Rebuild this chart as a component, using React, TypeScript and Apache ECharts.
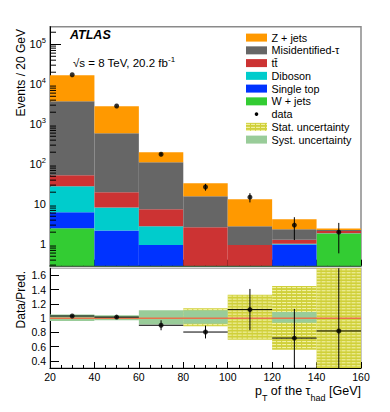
import React, { useEffect, useRef } from 'react';
import * as echarts from 'echarts';

const FONT = '"Liberation Sans", Arial, Helvetica, sans-serif';

// ---- data ----
const binEdges = [20, 40, 60, 80, 100, 120, 140, 160];
const componentNames = ['W + jets', 'Single top', 'Diboson', 'tt\u0304', 'Misidentified-\u03c4', 'Z + jets'];
const componentColors = ['#33cc33', '#0033ff', '#00cccc', '#cc3333', '#666666', '#ff9900'];
const wJets = [2.5, 0.1, 0.05, 0.05, 0.02, 0.02, 1.85];
const singleTop = [3.8, 2.1, 0.9, 0.1, 0.05, 0.96, 0.01];
const diboson = [21.7, 6.1, 1.85, 0.1, 0.05, 0.05, 0.02];
const ttbar = [25, 11.6, 4.7, 2.41, 0.83, 0.27, 0.27];
const misidTau = [3707, 576, 104.5, 13.1, 1.85, 1.07, 0.1];
const zJets = [13040, 2224, 88, 17.7, 10.5, 1.83, 0.23];
const dataCounts = [17300, 2860, 178, 27, 15, 3, 2];
const dataErr = [132, 53, 13.3, 5.2, 3.9, 1.73, 1.41];
const ratioValues = [1.03, 1.015, 0.9, 0.805, 1.12, 0.72, 0.82];
const ratioErr = [0.01, 0.02, 0.07, 0.09, 0.29, 0.41, 1.0];
const statLow = [0.99, 0.985, 0.97, 0.885, 0.695, 0.555, 0.25];
const statHigh = [1.01, 1.015, 1.03, 1.14, 1.33, 1.45, 1.75];
const systLow = [0.96, 0.97, 0.91, 0.92, 1, 0.935, 1];
const systHigh = [1.05, 1.04, 1.11, 1.11, 1, 1.086, 1];
const ratioReference = 1;
const ratioTicks = [0.4, 0.6, 0.8, 1, 1.2, 1.4, 1.6];
const logDecades = [0.1, 1, 10, 100, 1000, 10000, 100000];
const logMinorMultipliers = [2, 3, 4, 5, 6, 7, 8, 9];

const components = [wJets, singleTop, diboson, ttbar, misidTau, zJets];
const binCenters = binEdges.slice(0, -1).map((e, i) => (e + binEdges[i + 1]) / 2);
const logMinorTicks: number[] = [];
logDecades.forEach((d) => logMinorMultipliers.forEach((m) => logMinorTicks.push(d * m)));

const STAT_FILL = '#d0d03a';
const STAT_LINE = 'rgba(255,255,205,0.8)';
const SYST_FILL = '#99cc99';

function clipShape(shape: any, cs: any) {
  return echarts.graphic.clipRectByRect(shape, { x: cs.x, y: cs.y, width: cs.width, height: cs.height });
}

function rectFromApi(params: any, api: any) {
  const p0 = api.coord([api.value(0), api.value(3)]);
  const p1 = api.coord([api.value(1), api.value(2)]);
  return clipShape({ x: p0[0], y: p0[1], width: p1[0] - p0[0], height: p1[1] - p0[1] }, params.coordSys);
}

const histRender = (params: any, api: any) => {
  const shape = rectFromApi(params, api);
  if (!shape) return null;
  return { type: 'rect', shape, style: { fill: api.visual('color') } };
};

function hatchChildren(shape: any) {
  const children: any[] = [{ type: 'rect', shape, style: { fill: STAT_FILL } }];
  for (let y = shape.y + 1.5; y < shape.y + shape.height; y += 3) {
    children.push({
      type: 'line',
      shape: { x1: shape.x, y1: y, x2: shape.x + shape.width, y2: y },
      style: { stroke: STAT_LINE, lineWidth: 1, lineDash: [4, 1] },
    });
  }
  return children;
}

const statRender = (params: any, api: any) => {
  const shape = rectFromApi(params, api);
  if (!shape || shape.height <= 0) return null;
  return { type: 'group', children: hatchChildren(shape) };
};

const systRender = (params: any, api: any) => {
  const shape = rectFromApi(params, api);
  if (!shape || shape.height <= 0) return null;
  return { type: 'rect', shape, style: { fill: SYST_FILL } };
};

const vErrRender = (params: any, api: any) => {
  const a = api.coord([api.value(0), api.value(1)]);
  const b = api.coord([api.value(0), api.value(2)]);
  return { type: 'line', shape: { x1: a[0], y1: a[1], x2: b[0], y2: b[1] }, style: { stroke: '#000', lineWidth: 1 } };
};

const ratioErrRender = (params: any, api: any) => {
  const a = api.coord([api.value(0), api.value(2)]);
  const b = api.coord([api.value(0), api.value(3)]);
  const c = api.coord([api.value(4), api.value(1)]);
  const d = api.coord([api.value(5), api.value(1)]);
  return {
    type: 'group',
    children: [
      { type: 'line', shape: { x1: a[0], y1: a[1], x2: b[0], y2: b[1] }, style: { stroke: '#000', lineWidth: 1 } },
      { type: 'line', shape: { x1: c[0], y1: c[1], x2: d[0], y2: d[1] }, style: { stroke: '#000', lineWidth: 1 } },
    ],
  };
};

const minorTickRender = (params: any, api: any) => {
  const v = api.value(1);
  const cs = params.coordSys;
  const p = api.coord([binEdges[0], v]);
  if (p[1] <= cs.y + 0.5 || p[1] >= cs.y + cs.height - 0.5) return null;
  return { type: 'line', shape: { x1: cs.x, y1: p[1], x2: cs.x + 6, y2: p[1] }, style: { stroke: '#000', lineWidth: 1 } };
};

function buildOption() {
  const running = binCenters.map(() => 0);
  const histSeries = components.map((vals, c) => {
    const data = vals.map((v, i) => {
      const lo = running[i];
      const hi = lo + v;
      running[i] = hi;
      return [binEdges[i], binEdges[i + 1], Math.max(lo, 1e-3), hi];
    });
    return {
      type: 'custom',
      name: componentNames[c],
      xAxisIndex: 0,
      yAxisIndex: 0,
      renderItem: histRender,
      itemStyle: { color: componentColors[c] },
      encode: { x: [0, 1], y: [2, 3] },
      data,
      z: 2,
    };
  });

  const minorTickSeries = {
    type: 'custom',
    name: 'minor-ticks',
    xAxisIndex: 0,
    yAxisIndex: 0,
    renderItem: minorTickRender,
    encode: { x: 0, y: 1 },
    data: logMinorTicks.map((v) => [binEdges[0], v]),
    silent: true,
    z: 8,
  };

  const dataErrSeries = {
    type: 'custom',
    name: 'data-err',
    xAxisIndex: 0,
    yAxisIndex: 0,
    clip: true,
    renderItem: vErrRender,
    encode: { x: 0, y: [1, 2] },
    data: dataCounts.map((v, i) => [binCenters[i], v - dataErr[i], v + dataErr[i]]),
    z: 5,
  };
  const dataSeries = {
    type: 'scatter',
    name: 'data',
    xAxisIndex: 0,
    yAxisIndex: 0,
    symbol: 'circle',
    symbolSize: 5,
    itemStyle: { color: '#000' },
    data: dataCounts.map((v, i) => [binCenters[i], v]),
    z: 6,
  };

  const statSeries = {
    type: 'custom',
    name: 'Stat. uncertainty',
    xAxisIndex: 1,
    yAxisIndex: 1,
    renderItem: statRender,
    encode: { x: [0, 1], y: [2, 3] },
    data: statLow.map((lo, i) => [binEdges[i], binEdges[i + 1], lo, statHigh[i]]),
    z: 2,
  };
  const systSeries = {
    type: 'custom',
    name: 'Syst. uncertainty',
    xAxisIndex: 1,
    yAxisIndex: 1,
    renderItem: systRender,
    encode: { x: [0, 1], y: [2, 3] },
    data: systLow.map((lo, i) => [binEdges[i], binEdges[i + 1], lo, systHigh[i]]),
    z: 3,
  };
  const refLine = {
    type: 'line',
    name: 'reference',
    xAxisIndex: 1,
    yAxisIndex: 1,
    showSymbol: false,
    symbol: 'none',
    lineStyle: { color: '#e8724c', width: 1.5 },
    data: [[binEdges[0], ratioReference], [binEdges[binEdges.length - 1], ratioReference]],
    z: 4,
  };
  const ratioErrSeries = {
    type: 'custom',
    name: 'ratio-err',
    xAxisIndex: 1,
    yAxisIndex: 1,
    clip: true,
    renderItem: ratioErrRender,
    encode: { x: [0, 4, 5], y: [1, 2, 3] },
    data: ratioValues.map((v, i) => [binCenters[i], v, v - ratioErr[i], v + ratioErr[i], binEdges[i], binEdges[i + 1]]),
    z: 5,
  };
  const ratioSeries = {
    type: 'scatter',
    name: 'ratio',
    xAxisIndex: 1,
    yAxisIndex: 1,
    symbol: 'circle',
    symbolSize: 5,
    itemStyle: { color: '#000' },
    data: ratioValues.map((v, i) => [binCenters[i], v]),
    z: 6,
  };

  // legend (graphic)
  const legendX = 246;
  const legendY0 = 37.6;
  const legendStep = 12.75;
  const legendItems: any[] = [];
  const entries: { name: string; kind: string; color?: string }[] = [];
  for (let c = componentNames.length - 1; c >= 0; c--) {
    entries.push({ name: componentNames[c], kind: 'rect', color: componentColors[c] });
  }
  entries.push({ name: 'data', kind: 'dot' });
  entries.push({ name: 'Stat. uncertainty', kind: 'stat' });
  entries.push({ name: 'Syst. uncertainty', kind: 'rect', color: SYST_FILL });
  entries.forEach((e, k) => {
    const cy = legendY0 + k * legendStep;
    const shape = { x: legendX, y: cy - 4, width: 21, height: 8 };
    if (e.kind === 'rect') {
      legendItems.push({ type: 'rect', shape, style: { fill: e.color } });
    } else if (e.kind === 'dot') {
      legendItems.push({ type: 'circle', shape: { cx: legendX + 10.5, cy, r: 1.8 }, style: { fill: '#000' } });
    } else {
      legendItems.push({ type: 'group', children: hatchChildren(shape) });
    }
    legendItems.push({
      type: 'text',
      x: 271.5,
      y: cy,
      style: { text: e.name, fontFamily: FONT, fontSize: 10.8, fill: '#000', align: 'left', verticalAlign: 'middle' },
    });
  });

  const logLabel = (v: number) => {
    const p = Math.round(Math.log10(v));
    if (p === 0) return '1';
    if (p === 1) return '10';
    return '10{sup|' + p + '}';
  };

  return {
    animation: false,
    textStyle: { fontFamily: FONT },
    grid: [
      { left: 50, top: 26.7, width: 311, height: 239, show: true, borderColor: '#8a8a8a', borderWidth: 1.5, backgroundColor: 'transparent' },
      { left: 50, top: 268.3, width: 311, height: 99.7, show: true, borderColor: '#b4b4b4', borderWidth: 1.5, backgroundColor: 'transparent' },
    ],
    xAxis: [
      {
        type: 'value', gridIndex: 0, min: 20, max: 160, interval: 20,
        axisLine: { show: true, onZero: false, lineStyle: { color: '#1d4a1d', width: 1.5 } },
        axisTick: { show: true, inside: true, length: 6, lineStyle: { color: '#000' } },
        minorTick: { show: true, splitNumber: 4, length: 3, lineStyle: { color: '#000' } },
        axisLabel: { show: false },
        splitLine: { show: false },
      },
      {
        type: 'value', gridIndex: 1, min: 20, max: 160, interval: 20,
        axisLine: { show: true, onZero: false, lineStyle: { color: '#000' } },
        axisTick: { show: true, inside: true, length: 6, lineStyle: { color: '#000' } },
        minorTick: { show: true, splitNumber: 4, length: 3, lineStyle: { color: '#000' } },
        axisLabel: { show: true, fontSize: 10.5, color: '#000', margin: 3, fontFamily: FONT },
        splitLine: { show: false },
      },
    ],
    yAxis: [
      {
        type: 'log', logBase: 10, gridIndex: 0, min: 0.29, max: 275000,
        axisLine: { show: true, onZero: false, lineStyle: { color: '#000' } },
        axisTick: { show: true, inside: true, length: 11, lineStyle: { color: '#000' } },
        minorTick: { show: false },
        axisLabel: {
          show: true, fontSize: 11, color: '#000', margin: 4, fontFamily: FONT,
          showMinLabel: false, showMaxLabel: false, lineHeight: 16,
          formatter: logLabel,
          rich: { sup: { fontSize: 7.5, lineHeight: 8, verticalAlign: 'top', color: '#000', fontFamily: FONT } },
        },
        splitLine: { show: false },
        minorSplitLine: { show: false },
      },
      {
        type: 'value', gridIndex: 1, min: 0.3, max: 1.7,
        axisLine: { show: true, onZero: false, lineStyle: { color: '#000' } },
        axisTick: { show: true, inside: true, length: 9, customValues: ratioTicks, lineStyle: { color: '#000' } },
        axisLabel: {
          show: true, fontSize: 10.5, color: '#000', margin: 4, fontFamily: FONT,
          customValues: ratioTicks,
          formatter: (v: number) => String(Math.round(v * 10) / 10),
        },
        splitLine: { show: false },
      },
    ],
    graphic: [
      ...legendItems,
      {
        type: 'text', x: 70, y: 35,
        style: { text: 'ATLAS', fontFamily: FONT, fontSize: 12.5, fontWeight: 'bold', fontStyle: 'italic', fill: '#000', align: 'left', verticalAlign: 'middle' },
      },
      {
        type: 'text', x: 73, y: 63,
        style: {
          text: '\u221as = 8 TeV, 20.2 fb{sup|-1}', fontFamily: FONT, fontSize: 11.5, fill: '#000', align: 'left', verticalAlign: 'middle', lineHeight: 16,
          rich: { sup: { fontSize: 8, lineHeight: 8, verticalAlign: 'top', fill: '#000', fontFamily: FONT } },
        },
      },
      {
        type: 'text', x: 20.5, y: 29, rotation: Math.PI / 2,
        style: { text: 'Events / 20 GeV', fontFamily: FONT, fontSize: 12, fill: '#000', align: 'right', verticalAlign: 'middle' },
      },
      {
        type: 'text', x: 20.5, y: 271, rotation: Math.PI / 2,
        style: { text: 'Data/Pred.', fontFamily: FONT, fontSize: 12, fill: '#000', align: 'right', verticalAlign: 'middle' },
      },
      {
        type: 'text', x: 361, y: 391,
        style: {
          text: 'p{subT|T} of the \u03c4{subH|had} [GeV]', fontFamily: FONT, fontSize: 12.5, fill: '#000', align: 'right', verticalAlign: 'middle', lineHeight: 22,
          rich: {
            subT: { fontSize: 9, lineHeight: 9, verticalAlign: 'bottom', fill: '#000', fontFamily: FONT },
            subH: { fontSize: 9, lineHeight: 14, verticalAlign: 'bottom', fill: '#000', fontFamily: FONT },
          },
        },
      },
    ],
    series: [...histSeries, minorTickSeries, dataErrSeries, dataSeries, statSeries, systSeries, refLine, ratioErrSeries, ratioSeries],
  };
}

export default function App() {
  const ref = useRef<HTMLDivElement>(null);
  useEffect(() => {
    const chart = echarts.init(ref.current!, null, { renderer: 'svg' });
    chart.setOption(buildOption() as any);
    return () => chart.dispose();
  }, []);
  return <div ref={ref} style={{ position: 'absolute', left: 0, top: 0, width: 390, height: 412 }} />;
}
